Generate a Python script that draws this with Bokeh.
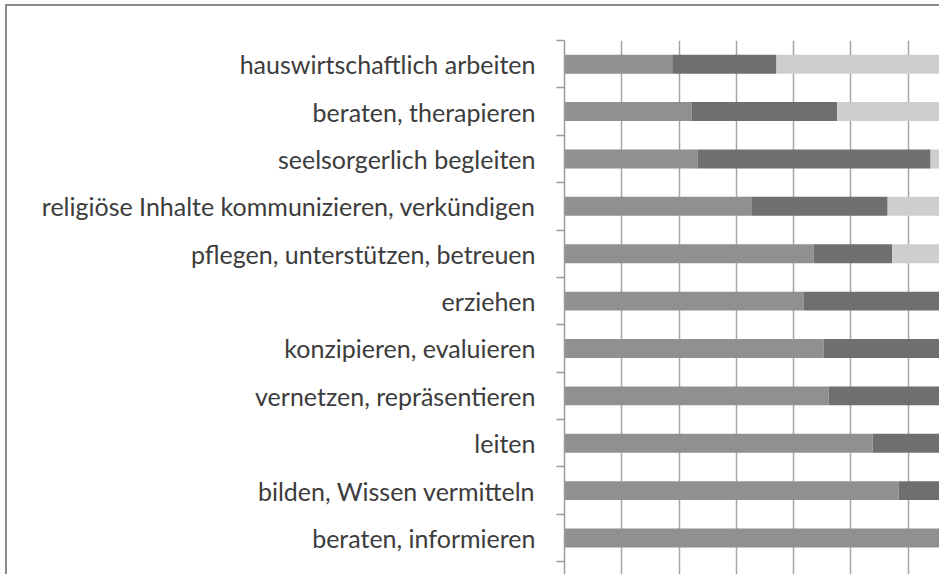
from bokeh.plotting import figure
from bokeh.models import Range1d, FixedTicker, ColumnDataSource
from bokeh.embed import file_html
from bokeh.resources import INLINE

categories = [
    "hauswirtschaftlich arbeiten",
    "beraten, therapieren",
    "seelsorgerlich begleiten",
    "religiöse Inhalte kommunizieren, verkündigen",
    "pflegen, unterstützen, betreuen",
    "erziehen",
    "konzipieren, evaluieren",
    "vernetzen, repräsentieren",
    "leiten",
    "bilden, Wissen vermitteln",
    "beraten, informieren",
]
seg1 = [18.8, 22.2, 23.2, 32.6, 43.5, 41.7, 45.2, 46.1, 53.8, 58.3, 70.0]
seg2 = [18.2, 25.4, 40.7, 23.8, 13.7, 30.0, 30.0, 28.0, 25.0, 20.0, 15.0]
seg3 = [100 - a - b for a, b in zip(seg1, seg2)]

colors = ["#909090", "#6f6f6f", "#cecece"]

n = len(categories)
ypos = [i + 0.5 for i in range(n)]
right1 = seg1
right2 = [a + b for a, b in zip(seg1, seg2)]
right3 = [a + b + c for a, b, c in zip(seg1, seg2, seg3)]

src = ColumnDataSource(dict(y=ypos, l1=[0] * n, r1=right1, l2=right1, r2=right2,
                            l3=right2, r3=right3))

p = figure(width=939, height=574, output_backend="svg", toolbar_location=None,
           x_range=Range1d(0, 65.45), y_range=Range1d(11.27, 0),
           min_border_left=564, min_border_top=40, min_border_bottom=0,
           min_border_right=0, outline_line_color=None,
           background_fill_color="white", border_fill_color=None,
           styles={"background-color": "white",
                   "box-shadow": "inset 5px 4px 0 0 white, inset 7px 6px 0 0 #8c8c8c"})

for l, r, c in [("l1", "r1", colors[0]), ("l2", "r2", colors[1]), ("l3", "r3", colors[2])]:
    p.hbar(y="y", left=l, right=r, height=0.4, source=src, fill_color=c, line_color=None)

p.xaxis.visible = False
p.xaxis.ticker = FixedTicker(ticks=[0, 10, 20, 30, 40, 50, 60])
p.xgrid.grid_line_color = "#a6a6a6"
p.xgrid.grid_line_width = 1.5
p.ygrid.grid_line_color = None

yax = p.yaxis[0]
yax.ticker = FixedTicker(ticks=ypos, minor_ticks=list(range(n + 1)))
yax.major_label_overrides = {y: c for y, c in zip(ypos, categories)}
yax.major_tick_line_color = None
yax.major_tick_out = 0
yax.major_tick_in = 0
yax.minor_tick_line_color = "#9a9a9a"
yax.minor_tick_line_width = 1.5
yax.minor_tick_out = 8
yax.minor_tick_in = 0
yax.axis_line_color = "#9a9a9a"
yax.axis_line_width = 1.5
yax.major_label_text_font = "Lato"
yax.major_label_text_font_size = "25px"
yax.major_label_text_color = "#3c3c3c"
yax.major_label_standoff = 21

open("out.html", "w").write(file_html(p, INLINE))
